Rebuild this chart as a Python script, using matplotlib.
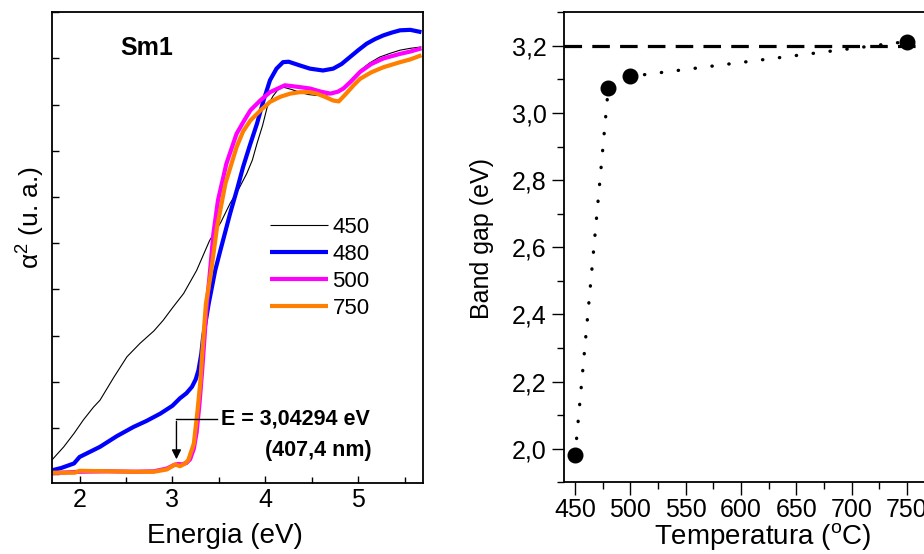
import matplotlib
matplotlib.use("Agg")
import matplotlib.pyplot as plt
from matplotlib.ticker import MultipleLocator, FixedLocator, FixedFormatter

plt.rcParams['font.family'] = ['Liberation Sans', 'DejaVu Sans']
plt.rcParams['mathtext.fontset'] = 'custom'
plt.rcParams['mathtext.rm'] = 'Liberation Sans'
plt.rcParams['mathtext.it'] = 'Liberation Sans:italic'

# ---------------- Left panel data: alpha^2 vs energy ----------------
E_450 = [1.70, 1.83, 1.94, 2.04, 2.15, 2.22, 2.37, 2.51, 2.65, 2.80, 2.90, 3.00, 3.12, 3.26,
         3.40, 3.52, 3.62, 3.72, 3.80, 3.86, 3.91, 3.97, 4.02, 4.08, 4.13, 4.19, 4.28, 4.37,
         4.46, 4.55, 4.64, 4.73, 4.80, 4.86, 4.94, 5.02, 5.12, 5.23, 5.34, 5.45, 5.56, 5.68]
A_450 = [0.30, 0.59, 0.88, 1.17, 1.45, 1.60, 2.10, 2.54, 2.83, 3.10, 3.33, 3.60, 3.91, 4.41,
         5.06, 5.45, 5.86, 6.20, 6.51, 6.80, 7.16, 7.55, 7.95, 8.18, 8.31, 8.38, 8.33, 8.27,
         8.22, 8.20, 8.20, 8.24, 8.30, 8.40, 8.57, 8.74, 8.90, 9.03, 9.11, 9.18, 9.22, 9.25]

E_480 = [1.70, 1.80, 1.94, 2.00, 2.08, 2.22, 2.40, 2.58, 2.72, 2.87, 3.00, 3.08, 3.15, 3.21,
         3.25, 3.28, 3.31, 3.33, 3.36, 3.39, 3.46, 3.51, 3.62, 3.70, 3.76, 3.83, 3.91, 3.98,
         4.05, 4.12, 4.19, 4.25, 4.37, 4.48, 4.62, 4.73, 4.82, 4.91, 5.00, 5.09, 5.18, 5.27,
         5.36, 5.45, 5.56, 5.68]
A_480 = [0.08, 0.13, 0.23, 0.37, 0.45, 0.59, 0.82, 1.02, 1.15, 1.31, 1.48, 1.64, 1.75, 1.89,
         2.05, 2.25, 2.60, 2.97, 3.33, 3.69, 4.41, 4.80, 5.64, 6.20, 6.65, 7.10, 7.59, 8.09,
         8.53, 8.78, 8.92, 8.93, 8.85, 8.78, 8.74, 8.78, 8.88, 9.03, 9.18, 9.32, 9.42, 9.50,
         9.56, 9.61, 9.62, 9.57]

E_500 = [1.70, 2.00, 2.30, 2.60, 2.80, 2.94, 3.01, 3.06, 3.10, 3.15, 3.19, 3.23, 3.26, 3.29,
         3.32, 3.35, 3.37, 3.40, 3.44, 3.49, 3.58, 3.69, 3.77, 3.84, 3.95, 4.05, 4.21, 4.37,
         4.48, 4.60, 4.70, 4.78, 4.84, 4.92, 5.02, 5.14, 5.27, 5.45, 5.56, 5.68]
A_500 = [0.02, 0.05, 0.06, 0.05, 0.06, 0.12, 0.19, 0.22, 0.21, 0.24, 0.32, 0.55, 0.90, 1.50,
         2.25, 3.10, 3.69, 4.30, 5.20, 5.93, 6.72, 7.37, 7.65, 7.88, 8.10, 8.27, 8.42, 8.38,
         8.35, 8.28, 8.24, 8.28, 8.35, 8.50, 8.71, 8.88, 9.00, 9.10, 9.15, 9.22]

E_750 = [1.70, 1.95, 2.00, 2.30, 2.60, 2.80, 2.94, 3.03, 3.08, 3.13, 3.17, 3.23, 3.27, 3.30,
         3.32, 3.36, 3.41, 3.48, 3.57, 3.69, 3.76, 3.84, 3.95, 4.05, 4.16, 4.27, 4.37, 4.48,
         4.55, 4.64, 4.73, 4.79, 4.87, 4.95, 5.02, 5.14, 5.27, 5.45, 5.56, 5.68]
A_750 = [0.03, 0.03, 0.07, 0.06, 0.05, 0.05, 0.10, 0.21, 0.17, 0.22, 0.30, 0.66, 1.38, 2.00,
         2.61, 3.69, 4.30, 5.35, 6.29, 7.08, 7.42, 7.66, 7.88, 8.06, 8.17, 8.24, 8.27, 8.27,
         8.24, 8.17, 8.09, 8.07, 8.24, 8.42, 8.56, 8.70, 8.81, 8.92, 8.98, 9.07]

series_labels = ['450', '480', '500', '750']
series_colors = ['black', '#0000FF', '#FF00FF', '#FF8000']

E_gap = 3.04294
gap_line1 = 'E = 3,04294 eV'
gap_line2 = '(407,4 nm)'

# ---------------- Right panel data: band gap vs temperature ----------------
temperatures = [450, 480, 500, 750]
band_gaps = [1.98, 3.074, 3.109, 3.213]
reference_gap = 3.2
temp_ticks = [450, 500, 550, 600, 650, 700, 750]
gap_ticks = [2.0, 2.2, 2.4, 2.6, 2.8, 3.0, 3.2]
gap_tick_labels = ['2,0', '2,2', '2,4', '2,6', '2,8', '3,0', '3,2']

W, H = 924, 554
fig = plt.figure(figsize=(W / 100, H / 100), dpi=100)

def rect(l, r, t, b):
    return [l / W, (H - b) / H, (r - l) / W, (b - t) / H]

# ---------- left ----------
ax1 = fig.add_axes(rect(51.7, 423.3, 12.3, 483.3))
xs = [E_450, E_480, E_500, E_750]
ys = [A_450, A_480, A_500, A_750]
lws = [0.8, 3.0, 3.0, 3.0]
for x, y, c, lab, lw in zip(xs, ys, series_colors, series_labels, lws):
    ax1.plot(x, y, color=c, lw=lw, label=lab, solid_capstyle='butt')
ax1.set_xlim(1.7, 5.7)
ax1.set_ylim(-0.2, 10.0)
ax1.xaxis.set_major_locator(MultipleLocator(1))
ax1.xaxis.set_minor_locator(MultipleLocator(0.5))
ax1.yaxis.set_major_locator(MultipleLocator(1))
ax1.tick_params(axis='both', which='major', direction='in', length=5, width=1,
                labelsize=18, top=False, right=False)
ax1.tick_params(axis='both', which='minor', direction='in', length=4, width=1)
ax1.tick_params(axis='y', labelleft=False)
for s in ax1.spines.values():
    s.set_linewidth(1.3)
ax1.set_xlabel('Energia (eV)', fontsize=20)
ax1.set_ylabel(r'α$^{2}$ (u. a.)', fontsize=19)
ax1.yaxis.set_label_coords(-0.012, 0.565)
ax1.xaxis.set_label_coords(0.465, -0.085)
ax1.text(0.185, 0.925, 'Sm1', transform=ax1.transAxes, fontsize=18,
         fontweight='bold', va='center', ha='left')
leg = ax1.legend(loc='upper left', bbox_to_anchor=(0.587, 0.566), frameon=False,
                 fontsize=16, handlelength=2.6, handletextpad=0.22, labelspacing=0.27,
                 borderpad=0, borderaxespad=0)
# annotation arrow
ax1.annotate('', xy=(E_gap, 0.26), xytext=(E_gap, 1.20),
             arrowprops=dict(arrowstyle='-|>', color='black', lw=1, mutation_scale=14))
ax1.plot([E_gap, 3.477], [1.20, 1.20], color='black', lw=1)
ax1.text(3.52, 1.20, gap_line1, fontsize=15.5, fontweight='bold', va='center', ha='left')
ax1.text(5.14, 0.52, gap_line2, fontsize=15.5, fontweight='bold', va='center', ha='right')

# ---------- right ----------
ax2 = fig.add_axes(rect(564, 962.4, 12.3, 482.3))
ax2.axhline(reference_gap, color='black', lw=2.3, dashes=(5.5, 3.2))
ax2.plot(temperatures, band_gaps, color='black', lw=2.4, linestyle=(0, (0.1, 5.0)),
         dash_capstyle='round', marker='o', markersize=10.5)
ax2.set_xlim(440, 800)
ax2.set_ylim(1.9, 3.3)
ax2.xaxis.set_major_locator(FixedLocator(temp_ticks))
ax2.xaxis.set_minor_locator(MultipleLocator(25))
ax2.yaxis.set_major_locator(FixedLocator(gap_ticks))
ax2.yaxis.set_major_formatter(FixedFormatter(gap_tick_labels))
ax2.yaxis.set_minor_locator(MultipleLocator(0.1))
ax2.tick_params(axis='both', which='major', direction='out', length=9, width=1, labelsize=18)
ax2.tick_params(axis='x', which='major', pad=2.5)
ax2.tick_params(axis='both', which='minor', direction='out', length=5, width=1)
ax2.spines['right'].set_visible(False)
for s in ax2.spines.values():
    s.set_linewidth(1.3)
ax2.set_xlabel(r'Temperatura ($^{\mathrm{o}}$C)', fontsize=20)
ax2.set_ylabel('Band gap (eV)', fontsize=18)
ax2.xaxis.set_label_coords(0.4995, -0.082)
ax2.yaxis.set_label_coords(-0.175, 0.518)

fig.savefig('out.png', dpi=100)
